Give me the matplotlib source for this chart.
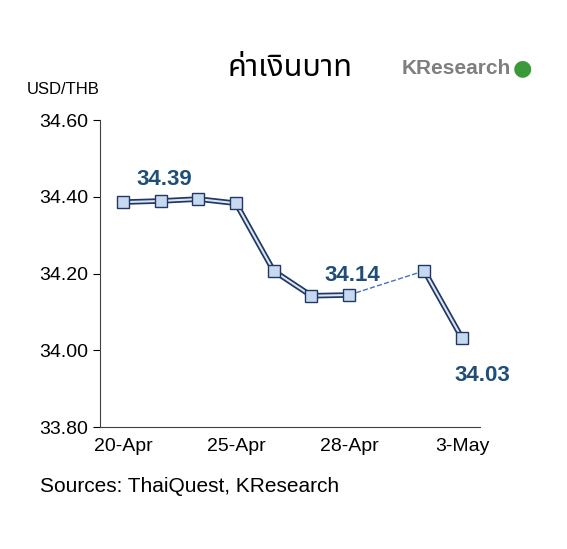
import matplotlib
matplotlib.use("Agg")
import matplotlib.pyplot as plt
import numpy as np

dates = ["20-Apr","21-Apr","22-Apr","25-Apr","26-Apr","27-Apr","28-Apr","29-Apr","2-May","3-May"]
values = [34.386, 34.389, 34.394, 34.383, 34.207, 34.142, 34.144, np.nan, 34.207, 34.032]
tick_labels = ["20-Apr","25-Apr","28-Apr","3-May"]
tick_idx = [0, 3, 6, 9]
yticks = [33.80, 34.00, 34.20, 34.40, 34.60]

navy = "#1f3864"
fig = plt.figure(figsize=(5.67, 5.49), dpi=100)
ax = fig.add_axes([100/567, 1-427/549, 380/567, 307/549])
x = np.arange(len(values))
v = np.array(values)
for seg in [(0, 7), (8, 10)]:
    xs, ys = x[seg[0]:seg[1]], v[seg[0]:seg[1]]
    ax.plot(xs, ys, color=navy, lw=4, zorder=2, solid_joinstyle="round")
    ax.plot(xs, ys, color="#dbe5f1", lw=1.5, zorder=3)
ax.plot([6, 8], [v[6], v[8]], color="#4472c4", lw=1, ls="--", zorder=1)
ax.plot(x, v, ls="none", marker="s", ms=8, mfc="#c6d9f1", mec=navy, mew=1, zorder=4)

ax.set_xlim(-0.61, 9.48)
ax.set_ylim(33.80, 34.60)
ax.set_yticks(yticks)
ax.set_yticklabels([f"{t:.2f}" for t in yticks], fontsize=14, family="Liberation Sans")
ax.set_xticks(tick_idx)
ax.set_xticklabels(tick_labels, fontsize=14, family="Liberation Sans")
for s in ["top", "right"]:
    ax.spines[s].set_visible(False)
for s in ["left", "bottom"]:
    ax.spines[s].set_color("#404040")
ax.tick_params(axis="y", length=5, direction="out")
ax.tick_params(axis="x", length=0, pad=8)

lab = dict(color="#1f4e79", fontsize=16, fontweight="bold", family="Liberation Sans", ha="center")
ax.text(1.1, 34.43, "34.39", **lab)
ax.text(6.08, 34.18, "34.14", **lab)
ax.text(9.53, 33.92, "34.03", **lab)

fig.text(100/567, 1-90/549, "USD/THB", fontsize=12, family="Liberation Sans", ha="right", va="center")
fig.text(290/567, 1-68/549, "ค่าเงินบาท", fontsize=22, fontweight="bold", family=["Noto Sans Thai", "Noto Sans", "DejaVu Sans"], ha="center", va="center")
fig.text(402/567, 1-68/549, "KResearch", fontsize=15, fontweight="bold", color="#7f7f7f", family="Liberation Sans", ha="left", va="center")
fig.text(522/567, 1-68/549, "●", fontsize=16, color="#3a9a3a", ha="center", va="center")
fig.text(40/567, 1-487/549, "Sources: ThaiQuest, KResearch", fontsize=15, family="Liberation Sans", ha="left", va="center")
fig.savefig("out.png", dpi=100)
